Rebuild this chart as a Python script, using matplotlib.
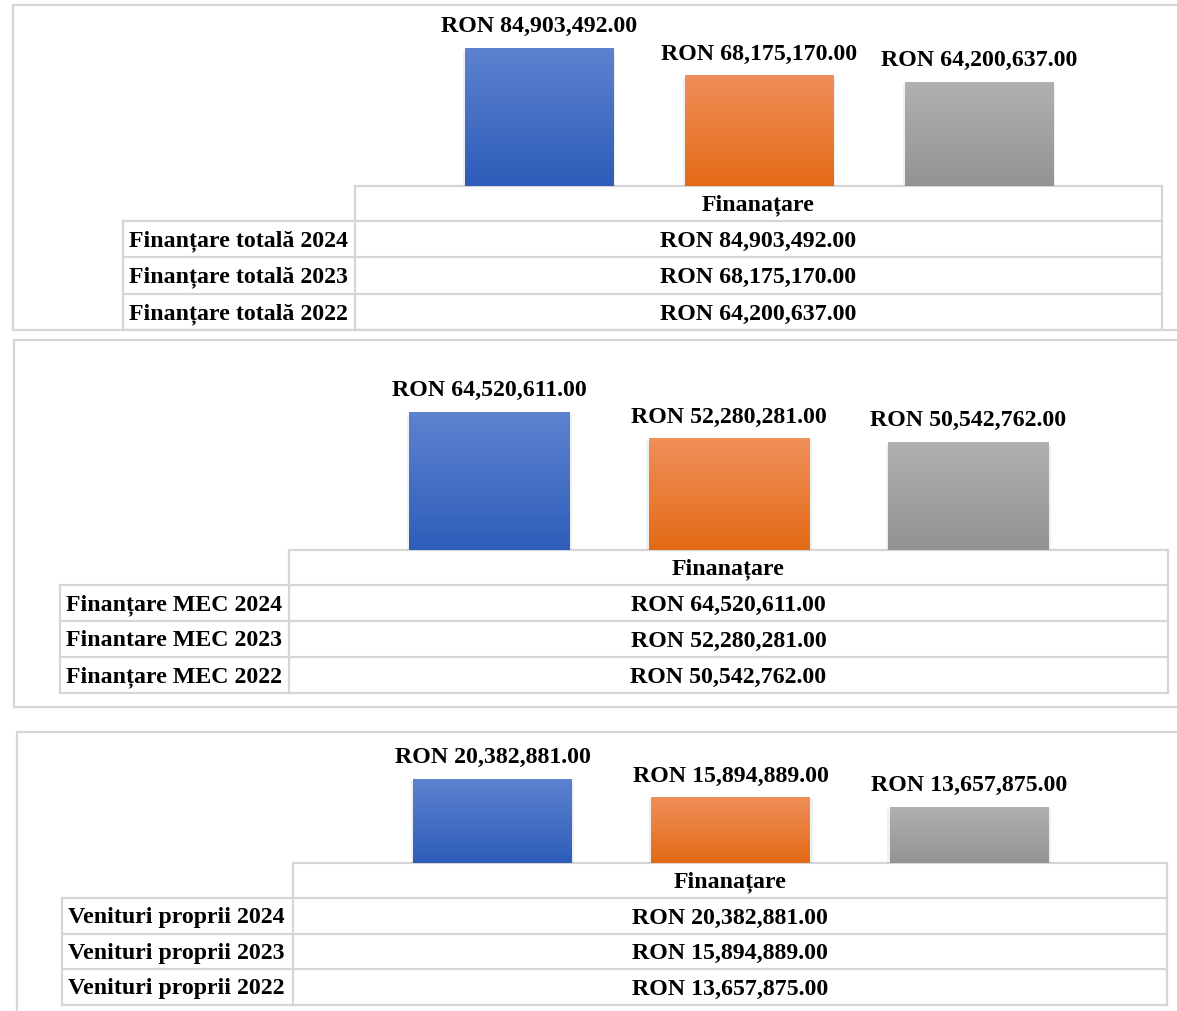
import numpy as np
import matplotlib
matplotlib.use("Agg")
import matplotlib.pyplot as plt
from matplotlib.colors import LinearSegmentedColormap

plt.rcParams['font.family'] = ['Liberation Serif', 'DejaVu Serif']
plt.rcParams['font.weight'] = 'bold'

W, H = 1177, 1012
fig = plt.figure(figsize=(W / 100, H / 100), dpi=100)

# ---------------- data ----------------
header = "Finanațare"
labels_total = ["Finanțare totală 2024", "Finanțare totală 2023", "Finanțare totală 2022"]
values_total = [84903492.00, 68175170.00, 64200637.00]
labels_mec = ["Finanțare MEC 2024", "Finantare MEC 2023", "Finanțare MEC 2022"]
values_mec = [64520611.00, 52280281.00, 50542762.00]
labels_own = ["Venituri proprii 2024", "Venituri proprii 2023", "Venituri proprii 2022"]
values_own = [20382881.00, 15894889.00, 13657875.00]

grad_top = ["#5d82d0", "#f08f5a", "#b1b1b1"]
grad_bot = ["#2d5db9", "#e36a16", "#939393"]
GRID = "#d6d6d6"
FS = 17.2


def fx(x):
    return x / W


def fy(y):
    return 1 - y / H


def fmt(v):
    return "RON {:,.2f}".format(v)


# layout per panel (pixel coordinates from the top-left)
panels = [
    dict(labels=labels_total, values=values_total,
         box=(13, 6, 1190, 331),
         bar_left=429, bar_right=1089, bar_bottom=187, bar_top_px=6, max_h=138, width=0.673,
         lab_x0=123, val_x0=355, val_x1=1162, rows=[187, 222, 258, 295, 331]),
    dict(labels=labels_mec, values=values_mec,
         box=(14, 341, 1190, 708),
         bar_left=369.75, bar_right=1088.25, bar_bottom=551, bar_top_px=341, max_h=138, width=0.672,
         lab_x0=60, val_x0=289, val_x1=1168, rows=[551, 586, 622, 658, 694]),
    dict(labels=labels_own, values=values_own,
         box=(17, 733, 1190, 1030),
         bar_left=373.4, bar_right=1088.1, bar_bottom=864, bar_top_px=733, max_h=84, width=0.667,
         lab_x0=62, val_x0=293, val_x1=1167, rows=[864, 899, 935, 970, 1006]),
]

overlay = fig.add_axes([0, 0, 1, 1], zorder=0)
overlay.set_xlim(0, W)
overlay.set_ylim(H, 0)
overlay.axis('off')

for p in panels:
    # outer chart border
    bx0, by0, bx1, by1 = p['box']
    overlay.plot([bx1, bx0, bx0, bx1], [by0, by0, by1, by1], color=GRID, lw=1.6,
                 solid_capstyle='butt', clip_on=False)

    # bar axes
    ax_h = p['bar_bottom'] - p['bar_top_px']
    ax = fig.add_axes([fx(p['bar_left']), fy(p['bar_bottom']),
                       fx(p['bar_right'] - p['bar_left']), ax_h / H], zorder=2)
    vals = np.array(p['values'])
    ymax = vals.max() * ax_h / p['max_h']
    x = np.arange(len(vals))
    ax.set_xlim(-0.5, len(vals) - 0.5)
    ax.set_ylim(0, ymax)
    ax.axis('off')

    # soft shadow
    ax.bar(x, vals, width=p['width'] + 0.02, bottom=-ymax * 0.015,
           color="#000000", alpha=0.06, zorder=1)
    bars = ax.bar(x, vals, width=p['width'], color='none', zorder=2)
    for i, b in enumerate(bars):
        cmap = LinearSegmentedColormap.from_list("g", [grad_bot[i], grad_top[i]])
        grad = np.linspace(0, 1, 256).reshape(-1, 1)
        bx = b.get_x()
        im = ax.imshow(grad, cmap=cmap, origin='lower', aspect='auto',
                       extent=[bx, bx + b.get_width(), 0, b.get_height()], zorder=3)
        im.set_clip_path(b)
        ax.annotate(fmt(vals[i]), (x[i], vals[i]), xytext=(0, 12),
                    textcoords='offset points', ha='center', va='baseline',
                    fontsize=FS, fontweight='bold', color='black',
                    annotation_clip=False)
    ax.set_xlim(-0.5, len(vals) - 0.5)
    ax.set_ylim(0, ymax)

    # data table
    rows = p['rows']
    lx0, vx0, vx1 = p['lab_x0'], p['val_x0'], p['val_x1']
    lw = 1.6
    overlay.plot([vx0, vx1], [rows[0], rows[0]], color=GRID, lw=lw, zorder=3)
    for r in rows[1:]:
        overlay.plot([lx0, vx1], [r, r], color=GRID, lw=lw, zorder=3)
    overlay.plot([lx0, lx0], [rows[1], rows[-1]], color=GRID, lw=lw, zorder=3)
    overlay.plot([vx0, vx0], [rows[0], rows[-1]], color=GRID, lw=lw, zorder=3)
    overlay.plot([vx1, vx1], [rows[0], rows[-1]], color=GRID, lw=lw, zorder=3)

    cx = (vx0 + vx1) / 2
    overlay.text(cx, (rows[0] + rows[1]) / 2 + 1, header, ha='center', va='center',
                 fontsize=FS, fontweight='bold', color='black')
    for j, (lab, v) in enumerate(zip(p['labels'], p['values'])):
        cy = (rows[j + 1] + rows[j + 2]) / 2 + 1
        overlay.text(lx0 + 6, cy, lab, ha='left', va='center',
                     fontsize=FS, fontweight='bold', color='black')
        overlay.text(cx, cy, fmt(v), ha='center', va='center',
                     fontsize=FS, fontweight='bold', color='black')

fig.savefig("out.png", dpi=100, facecolor='white')
